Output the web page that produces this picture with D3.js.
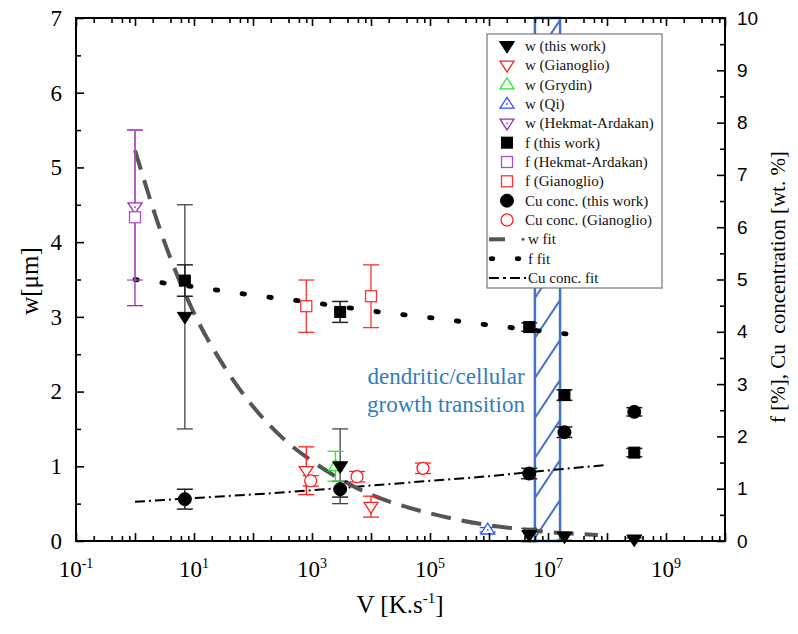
<!DOCTYPE html>
<html><head><meta charset="utf-8">
<script src="https://cdn.jsdelivr.net/npm/d3@7"></script>
<style>body{margin:0;background:#fff}</style>
</head><body>
<svg id="c" width="798" height="634"></svg>
<script>
// ---------- data ----------
const xTickExps = [-1,0,1,2,3,4,5,6,7,8,9,10];
const xLabelExps = [-1,1,3,5,7,9];
const leftTicks = [0,1,2,3,4,5,6,7];
const rightTicks = [0,1,2,3,4,5,6,7,8,9,10];

// w [µm] (left axis)
const wThisV   = [7, 3000, 4.8e6, 1.9e7, 2.9e8];
const wThis    = [3.0, 1.0, 0.08, 0.06, 0.02];
const wThisErr = [1.5, 0.5, 0.09, 0.05, 0.02];
const wGiaV    = [800, 1e4];
const wGia     = [0.94, 0.46];
const wGiaErr  = [0.32, 0.14];
const wGryV    = [2500];
const wGry     = [1.0];
const wGryErr  = [0.2];
const wQiV     = [9.5e5];
const wQi      = [0.15];
const wQiErr   = [0.03];
const wHekV    = [1];
const wHek     = [4.47];
const wHekLo   = [3.15];
const wHekHi   = [5.5];

// f [%] and Cu [wt.%] (right axis)
const fThisV   = [7, 3000, 4.8e6, 1.9e7, 2.9e8];
const fThis    = [4.98, 4.38, 4.09, 2.79, 1.69];
const fThisErr = [0.3, 0.2, 0.08, 0.1, 0.08];
const fHekV    = [1];
const fHek     = [6.19];
const fHekLo   = [4.99];
const fHekHi   = [7.86];
const fGiaV    = [800, 1e4];
const fGia     = [4.49, 4.68];
const fGiaErr  = [0.5, 0.6];
const cuThisV  = [7, 3000, 4.8e6, 1.9e7, 2.9e8];
const cuThis   = [0.80, 0.99, 1.29, 2.08, 2.47];
const cuThisErr= [0.19, 0.15, 0.1, 0.1, 0.08];
const cuGiaV   = [950, 5800, 7.6e4];
const cuGia    = [1.15, 1.23, 1.39];
const cuGiaErr = [0.1, 0.1, 0.1];

// fits
const wFitV = [1, 3.16, 10, 31.6, 100, 316, 1e3, 3.16e3, 1e4, 3.16e4, 1e5, 3.16e5, 1e6, 3.16e6, 1e7, 3.16e7, 7e7];
const wFit  = [5.23, 4.0, 3.05, 2.35, 1.8, 1.38, 1.07, 0.82, 0.62, 0.48, 0.37, 0.28, 0.21, 0.16, 0.12, 0.095, 0.08];
const fFitV = [1, 10, 100, 1e3, 1e4, 1e5, 1e6, 1e7, 5e7];
const fFit  = [5.0, 4.86, 4.70, 4.56, 4.40, 4.27, 4.13, 4.0, 3.91];
const cuFitV = [1, 10, 100, 1e3, 1e4, 1e5, 1e6, 1e7, 9e7];
const cuFit  = [0.75, 0.82, 0.89, 0.97, 1.06, 1.15, 1.24, 1.35, 1.45];

const bandV = [6e6, 1.6e7];

const legendItems = [
  {label:"w (this work)", type:"down", color:"#000", filled:true},
  {label:"w (Gianoglio)", type:"down", color:"#ff2020", filled:false},
  {label:"w (Grydin)", type:"up", color:"#22ee22", filled:false},
  {label:"w (Qi)", type:"up", color:"#3050ff", filled:false, dot:true},
  {label:"w (Hekmat-Ardakan)", type:"down", color:"#9a30b0", filled:false, dot:true},
  {label:"f (this work)", type:"square", color:"#000", filled:true},
  {label:"f (Hekmat-Ardakan)", type:"square", color:"#b050c0", filled:false},
  {label:"f (Gianoglio)", type:"square", color:"#ff3030", filled:false},
  {label:"Cu conc. (this work)", type:"circle", color:"#000", filled:true},
  {label:"Cu conc. (Gianoglio)", type:"circle", color:"#ff2020", filled:false},
  {label:"w fit", type:"wfit"},
  {label:"f fit", type:"ffit"},
  {label:"Cu conc. fit", type:"cufit"}
];

// ---------- chart ----------
const svg = d3.select('#c');
const M = {l:76, r:725, t:18, b:541};
const x = d3.scaleLog().domain([0.1, 1e10]).range([M.l, M.r]);
const yL = d3.scaleLinear().domain([0,7]).range([M.b, M.t]);
const yR = d3.scaleLinear().domain([0,10]).range([M.b, M.t]);
const serif = "'Liberation Serif','Times New Roman',serif";
const sans = "'Liberation Sans',Arial,sans-serif";
const BLUE = "#4472c4";

// hatched band
const defs = svg.append('defs');
defs.append('clipPath').attr('id','bandClip').append('rect')
  .attr('x', x(bandV[0])).attr('y', M.t).attr('width', x(bandV[1])-x(bandV[0])).attr('height', M.b-M.t);
const band = svg.append('g');
const bx0 = x(bandV[0]), bx1 = x(bandV[1]);
const hatch = band.append('g').attr('clip-path','url(#bandClip)');
for (let yy = M.t; yy <= M.b + 80; yy += 40) {
  hatch.append('line').attr('x1', bx0).attr('y1', yy).attr('x2', bx1).attr('y2', yy - 38)
    .attr('stroke', BLUE).attr('stroke-width', 2);
}
band.append('rect').attr('x', bx0).attr('y', M.t).attr('width', bx1-bx0).attr('height', M.b-M.t)
  .attr('fill','none').attr('stroke', BLUE).attr('stroke-width', 2.5);

// annotation
const ann = svg.append('text').attr('font-family', serif).attr('font-size', 23).attr('fill', '#2e7ebf')
  .attr('text-anchor','middle');
ann.append('tspan').attr('x', 446).attr('y', 384).text('dendritic/cellular');
ann.append('tspan').attr('x', 446).attr('y', 412).text('growth transition');

// fits
const pts = (vs, ys, sc) => vs.map((v,i)=>[x(v), sc(ys[i])]);
const line = d3.line().curve(d3.curveMonotoneX);
svg.append('path').attr('d', line(pts(cuFitV, cuFit, yR))).attr('fill','none')
  .attr('stroke','#000').attr('stroke-width',2).attr('stroke-dasharray','10,4,2,4');
svg.append('path').attr('d', line(pts(fFitV, fFit, yR))).attr('fill','none')
  .attr('stroke','#000').attr('stroke-width',4.8).attr('stroke-linecap','round').attr('stroke-dasharray','2.5,24.5');
svg.append('path').attr('d', line(pts(wFitV, wFit, yL))).attr('fill','none')
  .attr('stroke','#555').attr('stroke-width',4).attr('stroke-dasharray','20,11');

// error bars
function errBars(vs, lo, hi, sc, color, w) {
  const g = svg.append('g').attr('stroke', color).attr('stroke-width', w).attr('fill','none');
  vs.forEach((v,i)=>{
    const cx = x(v), y1 = sc(lo[i]), y2 = sc(hi[i]);
    g.append('line').attr('x1',cx).attr('x2',cx).attr('y1',y1).attr('y2',y2);
    g.append('line').attr('x1',cx-8).attr('x2',cx+8).attr('y1',y1).attr('y2',y1);
    g.append('line').attr('x1',cx-8).attr('x2',cx+8).attr('y1',y2).attr('y2',y2);
  });
}
const sub = (a,e)=>a.map((v,i)=>v-e[i]);
const add = (a,e)=>a.map((v,i)=>v+e[i]);
errBars(wHekV, wHekLo, wHekHi, yL, '#9a30b0', 1.3);
errBars(fHekV, fHekLo, fHekHi, yR, '#b050c0', 1.3);
errBars(wThisV, sub(wThis,wThisErr), add(wThis,wThisErr), yL, '#444', 1.3);
errBars(fThisV, sub(fThis,fThisErr), add(fThis,fThisErr), yR, '#222', 1.5);
errBars(cuThisV, sub(cuThis,cuThisErr), add(cuThis,cuThisErr), yR, '#222', 1.5);
errBars(wGiaV, sub(wGia,wGiaErr), add(wGia,wGiaErr), yL, '#ff2020', 1.3);
errBars(fGiaV, sub(fGia,fGiaErr), add(fGia,fGiaErr), yR, '#ff3030', 1.3);
errBars(cuGiaV, sub(cuGia,cuGiaErr), add(cuGia,cuGiaErr), yR, '#ff2020', 1.3);
errBars(wGryV, sub(wGry,wGryErr), add(wGry,wGryErr), yL, '#22ee22', 1.3);
errBars(wQiV, sub(wQi,wQiErr), add(wQi,wQiErr), yL, '#3050ff', 1.3);

// markers
function marker(g, type, cx, cy, color, filled, dot) {
  let el;
  const fill = filled ? color : '#fff';
  if (type==='down') {
    const s = filled ? 7.5 : 7;
    el = g.append('path').attr('d', `M${cx-s},${cy-s*0.6}L${cx+s},${cy-s*0.6}L${cx},${cy+s*0.95}Z`);
  } else if (type==='up') {
    const s = 7;
    el = g.append('path').attr('d', `M${cx-s},${cy+s*0.6}L${cx+s},${cy+s*0.6}L${cx},${cy-s*0.95}Z`);
  } else if (type==='square') {
    const s = 5.5;
    el = g.append('rect').attr('x',cx-s).attr('y',cy-s).attr('width',2*s).attr('height',2*s);
  } else {
    el = g.append('circle').attr('cx',cx).attr('cy',cy).attr('r', filled ? 6.5 : 6);
  }
  el.attr('fill', fill).attr('stroke', color).attr('stroke-width', filled ? 1 : 1.3);
  if (dot) g.append('circle').attr('cx',cx).attr('cy',cy).attr('r',0.9).attr('fill',color);
}
function series(vs, ys, sc, type, color, filled, dot) {
  const g = svg.append('g');
  vs.forEach((v,i)=>marker(g, type, x(v), sc(ys[i]), color, filled, dot));
}
series(wHekV, wHek, yL, 'down', '#9a30b0', false, true);
series(fHekV, fHek, yR, 'square', '#b050c0', false);
series(wGiaV, wGia, yL, 'down', '#ff2020', false);
series(fGiaV, fGia, yR, 'square', '#ff3030', false);
series(cuGiaV, cuGia, yR, 'circle', '#ff2020', false);
series(wGryV, wGry, yL, 'up', '#22ee22', false);
series(wQiV, wQi, yL, 'up', '#3050ff', false, true);
series(fThisV, fThis, yR, 'square', '#000', true);
series(cuThisV, cuThis, yR, 'circle', '#000', true);
series(wThisV, wThis, yL, 'down', '#000', true);

// legend
const lg = svg.append('g');
lg.append('rect').attr('x',487).attr('y',34).attr('width',175).attr('height',254)
  .attr('fill','#fff').attr('stroke','#777').attr('stroke-width',1.2);
legendItems.forEach((it,i)=>{
  const cy = 46 + i*19.33;
  const sx = 507;
  let tx = 525;
  if (it.type==='wfit') {
    lg.append('line').attr('x1',489).attr('x2',505).attr('y1',cy).attr('y2',cy).attr('stroke','#555').attr('stroke-width',4);
    lg.append('circle').attr('cx',523).attr('cy',cy).attr('r',1.5).attr('fill','#555');
    tx = 528;
  } else if (it.type==='ffit') {
    lg.append('ellipse').attr('cx',492).attr('cy',cy).attr('rx',3.2).attr('ry',2.3).attr('fill','#000');
    lg.append('ellipse').attr('cx',518).attr('cy',cy).attr('rx',3.2).attr('ry',2.3).attr('fill','#000');
    tx = 528;
  } else if (it.type==='cufit') {
    lg.append('line').attr('x1',489).attr('x2',526).attr('y1',cy).attr('y2',cy).attr('stroke','#000')
      .attr('stroke-width',2).attr('stroke-dasharray','10,4,3,4');
    tx = 528;
  } else {
    marker(lg, it.type, sx, cy, it.color, it.filled, it.dot);
  }
  lg.append('text').attr('x',tx).attr('y',cy+5).attr('font-family',serif).attr('font-size',15)
    .attr('fill','#111').text(it.label);
});

// axes
const majorV = xTickExps.map(e=>Math.pow(10,e));
const minorV = [];
xTickExps.slice(0,-1).forEach(e=>[2,4,6,8].forEach(m=>minorV.push(m*Math.pow(10,e))));
const ax = svg.append('g').attr('stroke','#000');
function axisG(gen, tx, ty) {
  const g = ax.append('g').attr('transform',`translate(${tx},${ty})`).call(gen);
  g.select('.domain').remove();
  g.selectAll('line').attr('stroke','#000').attr('stroke-width',1.6);
  return g;
}
axisG(d3.axisBottom(x).tickValues(majorV).tickSize(-8).tickFormat(''), 0, M.b);
axisG(d3.axisBottom(x).tickValues(minorV).tickSize(-5).tickFormat(''), 0, M.b);
axisG(d3.axisTop(x).tickValues(majorV).tickSize(-8).tickFormat(''), 0, M.t);
axisG(d3.axisTop(x).tickValues(minorV).tickSize(-5).tickFormat(''), 0, M.t);
const gl = axisG(d3.axisLeft(yL).tickValues(leftTicks).tickSize(-8).tickPadding(14).tickFormat(d3.format('d')), M.l, 0);
gl.selectAll('text').attr('font-family',serif).attr('font-size',23).attr('fill','#000').attr('stroke','none');
axisG(d3.axisLeft(yL).tickValues(d3.range(0.5,7,1)).tickSize(-5).tickFormat(''), M.l, 0);
const gr = axisG(d3.axisRight(yR).tickValues(rightTicks).tickSize(-8).tickPadding(12).tickFormat(d3.format('d')), M.r, 0);
gr.selectAll('text').attr('font-family',sans).attr('font-size',19).attr('fill','#000').attr('stroke','none');
axisG(d3.axisRight(yR).tickValues(d3.range(0.5,10,1)).tickSize(-5).tickFormat(''), M.r, 0);

// bottom labels with superscripts
xLabelExps.forEach(e=>{
  const t = svg.append('text').attr('x', x(Math.pow(10,e))).attr('y', 577)
    .attr('text-anchor','middle').attr('font-family',serif).attr('font-size',23).attr('fill','#000');
  t.append('tspan').text('10');
  t.append('tspan').attr('font-size',14).attr('dy',-9).text(String(e));
});

// frame
svg.append('rect').attr('x',M.l).attr('y',M.t).attr('width',M.r-M.l).attr('height',M.b-M.t)
  .attr('fill','none').attr('stroke','#000').attr('stroke-width',2);

// titles
svg.append('text').attr('transform','translate(38,281) rotate(-90)').attr('text-anchor','middle')
  .attr('font-family',serif).attr('font-size',25).attr('fill','#000').text('w[μm]');
svg.append('text').attr('transform','translate(785,287) rotate(-90)').attr('text-anchor','middle')
  .attr('font-family',serif).attr('font-size',21).attr('fill','#000')
  .style('white-space','pre').text('f [%], Cu  concentration [wt. %]');
const xt = svg.append('text').attr('x',400).attr('y',613).attr('text-anchor','middle')
  .attr('font-family',serif).attr('font-size',25).attr('fill','#000');
xt.append('tspan').text('V [K.s');
xt.append('tspan').attr('font-size',15).attr('dy',-10).text('-1');
xt.append('tspan').attr('dy',10).text(']');
</script>
</body></html>
